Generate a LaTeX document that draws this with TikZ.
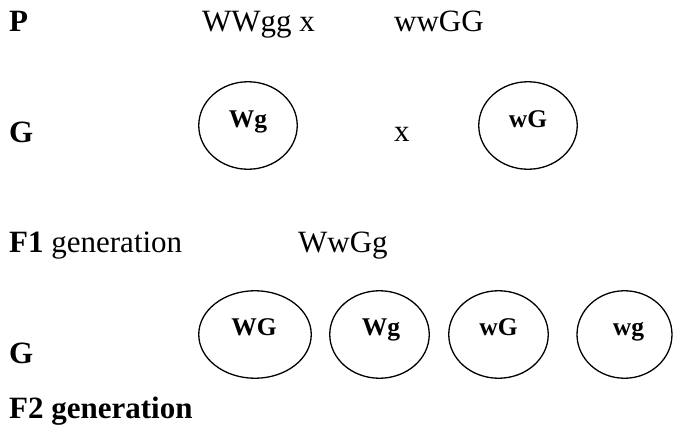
\documentclass[tikz,border=0pt]{standalone}
\usepackage{fontspec}
\setmainfont{Liberation Serif}
\usetikzlibrary{shapes.geometric}
\begin{document}
\begin{tikzpicture}[x=1pt,y=1pt,
  txt/.style={anchor=base west,inner sep=0pt,font=\fontsize{31}{36}\selectfont},
  glabel/.style={anchor=base,inner sep=0pt,font=\fontsize{25.5}{30}\selectfont\bfseries},
  gamete/.style={draw,ellipse,line width=1.3pt,inner sep=0pt,minimum width=#1,minimum height=87.5pt},
  gamete/.default=98.5pt]
\useasboundingbox (0,0) rectangle (673,-425);
% row P
\node[txt] (p) at (9,-32) {\textbf{P}};
\node[txt] (p1) at (202,-32) {WWgg x};
\node[txt] (p2) at (394,-32) {wwGG};
% row G
\node[txt] (g1) at (9,-143) {\textbf{G}};
\node[gamete] (e1) at (248,-125.5) {};
\node[glabel] (l1) at (248,-128) {Wg};
\node[txt] (cross) at (394,-142) {x};
\node[gamete] (e2) at (528,-125.5) {};
\node[glabel] (l2) at (528,-128) {wG};
% F1
\node[txt] (f1) at (9,-253) {\textbf{F1} generation};
\node[txt] (f1g) at (298,-253) {WwGg};
% G row 2
\node[txt] (g2) at (9,-363) {\textbf{G}};
\node[gamete=112.5pt] (b1) at (255,-334.5) {};
\node[glabel] (m1) at (254,-335) {WG};
\node[gamete=99.5pt] (b2) at (379.5,-334.5) {};
\node[glabel] (m2) at (381,-335) {Wg};
\node[gamete=99.5pt] (b3) at (498.5,-334.5) {};
\node[glabel] (m3) at (498.5,-335) {wG};
\node[gamete=95pt] (b4) at (624.5,-334.5) {};
\node[glabel] (m4) at (628.5,-335) {wg};
% F2
\node[txt] (f2) at (9,-418) {\textbf{F2 generation}};
\end{tikzpicture}
\end{document}
